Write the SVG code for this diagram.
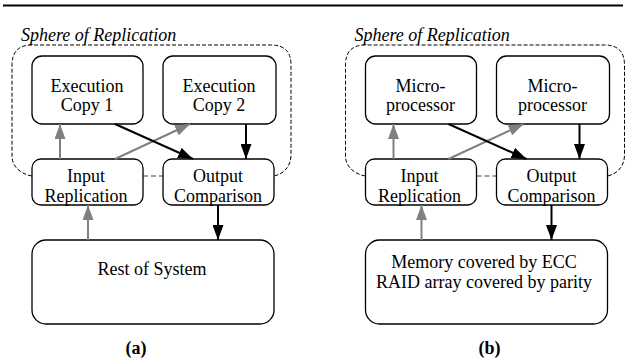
<svg xmlns="http://www.w3.org/2000/svg" width="626" height="360" viewBox="0 0 626 360">
<style>
.box{fill:#fff;stroke:#000;stroke-width:1.3}
.t{font-family:"Liberation Serif","Times New Roman",serif;font-size:18px;text-anchor:middle;fill:#000}
.sph{font-family:"Liberation Serif","Times New Roman",serif;font-size:18px;font-style:italic;fill:#000}
.lbl{font-family:"Liberation Serif","Times New Roman",serif;font-size:18px;font-weight:bold;text-anchor:middle;fill:#000}
.sphere{fill:none;stroke:#000;stroke-width:1;stroke-dasharray:4 2}
.link{fill:none;stroke:#808080;stroke-width:1.5;stroke-dasharray:5 3}
.g{stroke:#808080;stroke-width:2;fill:none;marker-end:url(#ag)}
.k{stroke:#000;stroke-width:2;fill:none;marker-end:url(#ak)}
</style>
<defs>
<marker id="ag" markerUnits="userSpaceOnUse" markerWidth="15" markerHeight="11" refX="15" refY="5.5" orient="auto"><path d="M0,0 L15,5.5 L0,11 z" fill="#808080"/></marker>
<marker id="ak" markerUnits="userSpaceOnUse" markerWidth="15" markerHeight="11" refX="15" refY="5.5" orient="auto"><path d="M0,0 L15,5.5 L0,11 z" fill="#000"/></marker>
</defs>
<rect width="626" height="360" fill="#fff"/>
<line x1="3" y1="5.5" x2="623" y2="5.5" stroke="#000" stroke-width="2.2"/>

<!-- Panel (a) -->
<g id="sphere-a">
<path class="sphere" d="M32,176 C20,174 12,166 12,156 L12,65 Q12,45 32,45 L271,45 Q291,45 291,65 L291,155 C291,166 284,174 274,176"/>
<line class="link" x1="143" y1="176" x2="163" y2="176"/>
<text class="sph" x="21" y="40.5">Sphere of Replication</text>
</g>
<g id="exec1"><rect class="box" x="32" y="56" width="111" height="68" rx="10"/><text class="t" x="87" y="92">Execution</text><text class="t" x="87" y="111">Copy 1</text></g>
<g id="exec2"><rect class="box" x="163" y="56" width="113" height="68" rx="10"/><text class="t" x="219" y="92">Execution</text><text class="t" x="219" y="111">Copy 2</text></g>
<g id="input-a"><rect class="box" x="32" y="159" width="111" height="46" rx="9"/><text class="t" x="86" y="182">Input</text><text class="t" x="86" y="202">Replication</text></g>
<g id="output-a"><rect class="box" x="163" y="159" width="111" height="46" rx="9"/><text class="t" x="218" y="182">Output</text><text class="t" x="218" y="202">Comparison</text></g>
<g id="rest"><rect class="box" x="32" y="240" width="242" height="84" rx="14"/><text class="t" x="152" y="275">Rest of System</text></g>
<text class="lbl" x="136" y="354">(a)</text>

<!-- Panel (b) -->
<g id="sphere-b">
<path class="sphere" d="M365.5,176 C353.5,174 345.5,166 345.5,156 L345.5,65 Q345.5,45 365.5,45 L604.5,45 Q624.5,45 624.5,65 L624.5,155 C624.5,166 617.5,174 607.5,176"/>
<line class="link" x1="476.5" y1="176" x2="496.5" y2="176"/>
<text class="sph" x="354.5" y="40.5">Sphere of Replication</text>
</g>
<g id="micro1"><rect class="box" x="365.5" y="56" width="111" height="68" rx="10"/><text class="t" x="420.5" y="92">Micro-</text><text class="t" x="420.5" y="111">processor</text></g>
<g id="micro2"><rect class="box" x="496.5" y="56" width="113" height="68" rx="10"/><text class="t" x="552.5" y="92">Micro-</text><text class="t" x="552.5" y="111">processor</text></g>
<g id="input-b"><rect class="box" x="365.5" y="159" width="111" height="46" rx="9"/><text class="t" x="419.5" y="182">Input</text><text class="t" x="419.5" y="202">Replication</text></g>
<g id="output-b"><rect class="box" x="496.5" y="159" width="111" height="46" rx="9"/><text class="t" x="551.5" y="182">Output</text><text class="t" x="551.5" y="202">Comparison</text></g>
<g id="memory"><rect class="box" x="365.5" y="240" width="242" height="84" rx="14"/><text class="t" x="484" y="268">Memory covered by ECC</text><text class="t" x="484" y="288">RAID array covered by parity</text></g>
<text class="lbl" x="489.5" y="354">(b)</text>

<g id="connectors">
<line class="g" x1="60" y1="159" x2="60" y2="124"/>
<line class="g" x1="115" y1="159" x2="190" y2="124"/>
<line class="k" x1="115" y1="124" x2="193" y2="159"/>
<line class="k" x1="246" y1="124" x2="246" y2="159"/>
<line class="g" x1="88" y1="240" x2="88" y2="205"/>
<line class="k" x1="218" y1="205" x2="218" y2="240"/>

<line class="g" x1="393.5" y1="159" x2="393.5" y2="124"/>
<line class="g" x1="448.5" y1="159" x2="523.5" y2="124"/>
<line class="k" x1="448.5" y1="124" x2="526.5" y2="159"/>
<line class="k" x1="579.5" y1="124" x2="579.5" y2="159"/>
<line class="g" x1="421.5" y1="240" x2="421.5" y2="205"/>
<line class="k" x1="551.5" y1="205" x2="551.5" y2="240"/>
</g>
</svg>
